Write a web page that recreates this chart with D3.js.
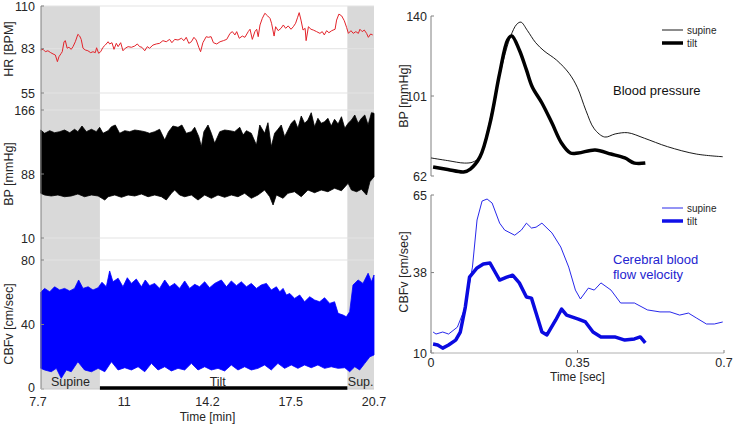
<!DOCTYPE html>
<html><head><meta charset="utf-8">
<script src="https://cdn.jsdelivr.net/npm/d3@7"></script>
<style>
body{margin:0;background:#fff;}
svg{display:block;font-family:"Liberation Sans",Arial,sans-serif;}
</style></head>
<body><svg id="c" width="734" height="424"></svg>
<script>
// ---------- Left panel data (time in minutes) ----------
const hrTime = [7.69,7.78,7.87,7.97,8.08,8.17,8.26,8.34,8.40,8.49,8.53,8.60,8.65,8.72,8.79,8.88,8.95,9.04,9.14,9.21,9.27,9.34,9.43,9.53,9.64,9.73,9.82,9.87,9.95,10.03,10.12,10.21,10.32,10.38,10.47,10.55,10.64,10.71,10.81,10.90,10.99,11.10,11.23,11.36,11.46,11.55,11.64,11.75,11.85,11.94,12.07,12.20,12.33,12.46,12.59,12.72,12.81,12.92,13.05,13.18,13.28,13.37,13.47,13.57,13.67,13.76,13.86,13.93,14.02,14.15,14.23,14.34,14.43,14.56,14.69,14.82,14.95,15.08,15.17,15.27,15.34,15.44,15.56,15.66,15.79,15.86,15.95,16.05,16.12,16.18,16.25,16.34,16.44,16.55,16.64,16.70,16.80,16.86,16.96,17.07,17.16,17.25,17.35,17.46,17.55,17.64,17.72,17.78,17.85,17.93,18.01,18.05,18.14,18.24,18.33,18.46,18.59,18.68,18.76,18.85,18.94,19.05,19.18,19.24,19.33,19.44,19.54,19.63,19.70,19.80,19.89,19.99,20.09,20.15,20.24,20.32,20.41,20.48,20.57,20.65];
const hrBpm = [82.2,82.6,81.1,81.7,80.5,79.7,79.0,74.8,77.9,80.1,81.1,87.4,88.1,83.3,83.9,82.6,84.3,87.4,92.1,91.0,88.9,83.3,82.2,81.7,80.5,81.1,80.5,83.6,80.1,81.1,83.9,85.3,87.4,86.0,86.8,82.6,86.4,84.3,86.8,81.7,83.3,84.3,83.9,84.7,86.0,84.3,83.9,81.7,84.3,83.3,85.3,86.0,86.4,88.1,87.4,88.9,86.8,88.9,88.5,89.6,88.1,90.2,86.4,87.4,90.2,88.5,83.9,81.1,86.8,90.6,90.2,90.6,86.8,86.0,87.4,88.1,88.9,92.7,93.8,91.7,93.8,89.6,91.0,90.2,93.8,95.3,88.9,93.8,95.3,90.6,98.0,102.2,105.4,103.7,102.2,99.1,91.0,96.9,94.4,95.9,98.0,95.9,97.4,95.3,96.9,99.1,102.9,105.8,101.1,94.8,95.9,88.1,96.9,95.3,94.8,93.8,92.7,93.8,91.7,94.4,93.1,94.4,95.3,101.1,104.9,103.7,100.7,96.5,92.7,94.4,92.7,93.8,92.7,95.3,93.8,94.8,92.7,90.2,92.3,91.7];

const bpUpperTime = [7.69,7.84,8.04,8.23,8.43,8.62,8.82,9.01,9.14,9.30,9.47,9.67,9.86,9.99,10.12,10.32,10.45,10.60,10.77,10.97,11.16,11.36,11.55,11.75,11.94,12.14,12.33,12.53,12.68,12.85,13.05,13.20,13.37,13.57,13.70,13.86,13.96,14.06,14.22,14.35,14.48,14.68,14.87,15.07,15.26,15.46,15.59,15.72,15.91,16.11,16.24,16.43,16.56,16.69,16.82,16.95,17.08,17.21,17.34,17.47,17.60,17.73,17.86,17.99,18.12,18.25,18.38,18.51,18.64,18.77,18.90,19.03,19.16,19.30,19.43,19.56,19.69,19.82,19.95,20.08,20.21,20.34,20.47,20.60,20.70];
const bpUpper = [141.6,137.6,140.8,138.3,139.6,141.6,138.3,142.5,139.6,146.5,139.6,142.5,139.6,144.9,137.6,140.8,145.6,147.7,137.6,140.8,139.6,141.6,140.8,139.6,137.6,139.6,142.5,129.4,139.6,146.5,144.9,147.7,137.6,139.6,144.9,133.5,121.3,139.6,147.7,137.6,125.4,139.6,141.6,140.8,139.6,144.9,135.5,140.8,137.6,123.3,147.7,137.6,150.5,121.3,137.6,142.5,147.7,133.5,141.6,149.8,153.8,143.7,158.7,149.8,153.8,162.7,145.6,155.9,149.8,151.7,155.9,146.5,154.7,148.9,157.8,143.7,149.8,153.8,159.9,149.8,155.9,159.9,147.7,162.7,162.0];
const bpLowerTime = [7.69,7.84,8.10,8.36,8.62,8.88,9.14,9.40,9.67,9.93,10.19,10.32,10.58,10.84,11.10,11.36,11.62,11.88,12.14,12.40,12.59,12.79,12.92,13.11,13.31,13.57,13.83,14.09,14.35,14.61,14.87,15.13,15.39,15.65,15.91,16.17,16.43,16.63,16.76,16.89,17.15,17.34,17.60,17.86,18.12,18.38,18.64,18.90,19.16,19.43,19.69,19.82,20.02,20.21,20.41,20.54,20.70];
const bpLower = [64.5,62.4,61.2,62.4,60.3,61.2,63.6,60.3,62.4,61.2,56.3,60.3,62.4,59.6,62.4,61.2,63.6,60.3,62.4,60.3,56.3,64.5,68.5,62.4,60.3,62.4,56.3,62.4,58.4,62.4,59.6,62.4,60.3,64.5,58.4,62.4,68.5,60.3,50.2,62.4,58.4,64.5,66.4,60.3,68.5,65.2,68.5,66.4,70.6,67.6,76.7,68.5,66.4,69.4,62.4,78.6,84.7];

const cbUpperTime = [7.69,7.84,8.04,8.23,8.43,8.62,8.82,9.01,9.17,9.34,9.54,9.73,9.93,10.08,10.25,10.38,10.51,10.71,10.90,11.07,11.23,11.42,11.62,11.77,11.94,12.14,12.33,12.53,12.72,12.92,13.11,13.31,13.50,13.70,13.89,14.09,14.28,14.48,14.74,14.94,15.13,15.33,15.52,15.72,15.91,16.11,16.30,16.50,16.69,16.89,17.02,17.15,17.28,17.41,17.60,17.80,17.99,18.19,18.38,18.58,18.77,18.97,19.16,19.30,19.49,19.62,19.75,19.88,20.08,20.27,20.47,20.60,20.70];
const cbUpper = [60.0,62.4,60.3,63.4,61.4,62.4,60.8,62.4,67.6,62.4,63.4,61.4,62.8,66.2,63.4,73.2,66.5,68.7,63.4,69.0,65.5,68.2,63.4,67.6,64.1,65.5,62.4,67.6,63.4,65.5,62.4,67.0,62.4,64.9,63.4,66.5,62.8,65.5,67.6,63.4,67.0,64.1,66.5,63.4,65.5,62.4,64.5,65.5,61.4,63.4,60.3,62.4,58.3,59.3,56.2,58.3,54.1,57.2,55.2,54.1,56.6,53.1,54.1,46.9,45.9,44.8,47.9,64.5,67.6,65.5,71.8,66.5,70.7];
const cbLowerTime = [7.69,7.84,8.10,8.30,8.49,8.69,8.88,9.14,9.40,9.67,9.93,10.19,10.45,10.71,10.97,11.23,11.49,11.75,12.01,12.27,12.53,12.79,13.05,13.31,13.57,13.83,14.09,14.35,14.61,14.87,15.13,15.39,15.65,15.91,16.17,16.43,16.69,16.95,17.21,17.47,17.73,17.99,18.25,18.51,18.77,19.03,19.30,19.56,19.75,19.95,20.14,20.34,20.54,20.70];
const cbLower = [12.8,11.8,10.7,12.8,6.6,11.8,10.7,16.9,11.8,10.7,12.8,10.7,16.9,11.8,13.2,11.8,13.8,10.7,15.9,11.8,13.8,11.2,12.8,11.8,15.9,11.8,13.8,11.8,12.8,11.2,14.9,11.8,13.8,11.8,12.8,14.9,11.8,15.9,12.8,14.9,12.8,14.9,13.2,14.9,12.8,13.8,12.8,13.2,10.7,13.8,11.8,15.9,20.0,21.1];

const phaseLabels = ["Supine","Tilt","Sup."];
const phaseStart = [7.7,10.0,19.66];
const phaseEnd = [10.0,19.66,20.7];
const minTicks = [7.7,10.95,14.2,17.45,20.7];
const minTickLabels = ["7.7","11","14.2","17.5","20.7"];
const hrTicks = [55,83,110], bpTicks = [10,88,166], cbTicks = [0,40,80];

// ---------- Right panel data (time in seconds) ----------
const bpSupineT = [0,0.04,0.08,0.1,0.115,0.13,0.15,0.17,0.19,0.205,0.215,0.23,0.25,0.27,0.3,0.33,0.35,0.37,0.39,0.415,0.44,0.47,0.51,0.565,0.634,0.697];
const bpSupine = [70.8,69.5,68.3,68.8,71,80,98,116,130,136,137,133,127,123,118.5,112,105,94,85,81,82.5,83.1,80.4,76.3,72.7,71.4];
const bpTiltT = [0.005,0.04,0.078,0.094,0.117,0.141,0.164,0.183,0.193,0.211,0.228,0.242,0.265,0.289,0.312,0.333,0.352,0.392,0.43,0.463,0.486,0.512];
const bpTilt = [66.4,65.2,64,65.4,71.3,87.8,112,128.3,130.3,123.4,113.7,105.4,97.6,87.8,78,73.2,73.2,74.7,72.7,70.8,68.3,68.3];
const cbSupineT = [0.005,0.012,0.028,0.042,0.063,0.082,0.099,0.11,0.122,0.134,0.146,0.164,0.176,0.2,0.216,0.228,0.24,0.251,0.265,0.289,0.31,0.329,0.345,0.357,0.376,0.39,0.406,0.43,0.453,0.486,0.517,0.547,0.571,0.594,0.615,0.634,0.658,0.677,0.697];
const cbSupine = [17.3,16.6,17.3,16.6,19,26,39.9,56.3,62.9,63.6,62.2,55.2,52.8,51,52.8,55.2,53.5,53.8,55.2,51.8,46.9,39.9,31.9,28.8,32.6,31.9,34.4,31.9,27.4,27.4,25,24.3,24.3,23.2,23.9,22.2,20.1,20.1,20.8];
const cbTiltT = [0.005,0.016,0.028,0.042,0.059,0.07,0.082,0.092,0.11,0.125,0.141,0.153,0.164,0.181,0.195,0.211,0.228,0.24,0.251,0.265,0.277,0.298,0.312,0.324,0.352,0.369,0.387,0.406,0.439,0.463,0.486,0.5,0.512];
const cbTilt = [13.1,12.8,11.7,12.8,14.5,17.3,26,36.4,39.6,41,41.3,38.2,35.4,36.4,37.1,34.4,29.5,29.1,23.9,17.3,16.3,21.5,25.3,23.2,21.8,20.8,17.3,15.6,15.6,14.5,14.9,15.6,13.5];
const secTicks = [0,0.35,0.7];
const secTickLabels = ["0","0.35","0.7"];
const rBpTicks = [62,101,140], rCbTicks = [10,38,65];

// ---------- Drawing ----------
const svg = d3.select("#c");
const TXT = "#262626", AX = "#808080", GRID = "#e3e3e3";
const zip = (a,b) => a.map((v,i)=>[v,b[i]]);

const x = d3.scaleLinear().domain([7.7,20.7]).range([41,374]);
const yHR = d3.scaleLinear().domain([55,110]).range([93,6]);
const yBP = d3.scaleLinear().domain([10,166]).range([238,110]);
const yCB = d3.scaleLinear().domain([0,80]).range([389,260]);

// shading
[0,2].forEach(i=>{
  svg.append("rect").attr("x",x(phaseStart[i])).attr("y",yHR(110))
    .attr("width",x(phaseEnd[i])-x(phaseStart[i])).attr("height",yCB(0)-yHR(110))
    .attr("fill","#d9d9d9");
});
// grids
[[yHR,hrTicks],[yBP,bpTicks],[yCB,cbTicks]].forEach(([s,t])=>{
  t.forEach(v=>{
    if (s===yCB && v===0) return;
    svg.append("line").attr("x1",x(7.7)).attr("x2",x(20.7)).attr("y1",s(v)).attr("y2",s(v))
      .attr("stroke",GRID).attr("stroke-width",1);
  });
});

// envelopes
function band(tu,u,tl,l,ys,color){
  const pts = zip(tu,u).concat(zip(tl,l).reverse());
  svg.append("path").attr("d", d3.line().x(d=>x(d[0])).y(d=>ys(d[1])).curve(d3.curveLinearClosed)(pts))
    .attr("fill",color).attr("stroke",color).attr("stroke-width",0.8).attr("stroke-linejoin","miter");
}
band(bpUpperTime,bpUpper,bpLowerTime,bpLower,yBP,"#000");
band(cbUpperTime,cbUpper,cbLowerTime,cbLower,yCB,"#0000ff");

// HR line
svg.append("path").attr("d", d3.line().x(d=>x(d[0])).y(d=>yHR(d[1]))(zip(hrTime,hrBpm)))
  .attr("fill","none").attr("stroke","#e3242b").attr("stroke-width",1);

// left axis
svg.append("line").attr("x1",41).attr("x2",41).attr("y1",yHR(110)).attr("y2",yCB(0)).attr("stroke",AX);
[[yHR,hrTicks],[yBP,bpTicks],[yCB,cbTicks]].forEach(([s,t])=>{
  t.forEach(v=>{
    svg.append("line").attr("x1",41).attr("x2",44).attr("y1",s(v)).attr("y2",s(v)).attr("stroke",AX);
    svg.append("text").attr("x",35).attr("y",s(v) - (s===yCB && v===0 ? 1.5 : 0)).attr("dy","0.36em").attr("text-anchor","end")
      .attr("font-size",12.5).attr("fill",TXT).text(v);
  });
});
// bottom axis line
svg.append("line").attr("x1",41).attr("x2",374).attr("y1",yCB(0)).attr("y2",yCB(0)).attr("stroke","#c8c8c8");
minTicks.forEach((v,i)=>{
  svg.append("text").attr("x",x(v) - (i===0?3:0)).attr("y",406).attr("text-anchor","middle")
    .attr("font-size",12.5).attr("fill",TXT).text(minTickLabels[i]);
});
svg.append("text").attr("x",x(14.2)).attr("y",421).attr("text-anchor","middle")
  .attr("font-size",12).attr("fill",TXT).text("Time [min]");
// tilt bar
svg.append("line").attr("x1",x(phaseStart[1])).attr("x2",x(phaseEnd[1])).attr("y1",388).attr("y2",388)
  .attr("stroke","#000").attr("stroke-width",3.5);
phaseLabels.forEach((lab,i)=>{
  const cx = i===1 ? x(14.6) : (x(phaseStart[i])+x(phaseEnd[i]))/2;
  svg.append("text").attr("x",cx).attr("y",386).attr("text-anchor","middle")
    .attr("font-size",12.5).attr("fill",TXT).text(lab);
});
// y labels
function ylab(xp,yp,t,fill){
  svg.append("text").attr("transform",`translate(${xp},${yp}) rotate(-90)`).attr("text-anchor","middle")
    .attr("font-size",12.5).attr("fill",fill||TXT).text(t);
}
ylab(13,49,"HR [BPM]");
ylab(13,174,"BP [mmHg]");
ylab(13,324,"CBFv [cm/sec]");

// ---------- Right panels ----------
const xr = d3.scaleLinear().domain([0,0.7]).range([431,724]);
const yrBP = d3.scaleLinear().domain([62,140]).range([176,16]);
const yrCB = d3.scaleLinear().domain([10,65]).range([353,195]);

function rAxis(ys,ticks){
  const [a,b] = ys.range();
  svg.append("line").attr("x1",431).attr("x2",431).attr("y1",a).attr("y2",b).attr("stroke",AX);
  ticks.forEach(v=>{
    svg.append("line").attr("x1",431).attr("x2",434).attr("y1",ys(v)).attr("y2",ys(v)).attr("stroke",AX);
    svg.append("text").attr("x",427).attr("y",ys(v)).attr("dy","0.36em").attr("text-anchor","end")
      .attr("font-size",12.5).attr("fill",TXT).text(v);
  });
}
rAxis(yrBP,rBpTicks);
rAxis(yrCB,rCbTicks);
svg.append("line").attr("x1",431).attr("x2",724).attr("y1",353).attr("y2",353).attr("stroke","#b0b0b0");
secTicks.forEach((v,i)=>{
  svg.append("line").attr("x1",xr(v)).attr("x2",xr(v)).attr("y1",353).attr("y2",350).attr("stroke",AX);
  svg.append("text").attr("x",xr(v)).attr("y",367).attr("text-anchor","middle")
    .attr("font-size",12.5).attr("fill",TXT).text(secTickLabels[i]);
});
svg.append("text").attr("x",xr(0.35)).attr("y",381).attr("text-anchor","middle")
  .attr("font-size",12).attr("fill",TXT).text("Time [sec]");
ylab(408,96,"BP [mmHg]");
ylab(408,272,"CBFv [cm/sec]");

const smooth = (ys)=>d3.line().x(d=>xr(d[0])).y(d=>ys(d[1])).curve(d3.curveCatmullRom.alpha(0.5));
const lin = (ys)=>d3.line().x(d=>xr(d[0])).y(d=>ys(d[1]));
svg.append("path").attr("d",smooth(yrBP)(zip(bpSupineT,bpSupine))).attr("fill","none").attr("stroke","#000").attr("stroke-width",0.9);
svg.append("path").attr("d",smooth(yrBP)(zip(bpTiltT,bpTilt))).attr("fill","none").attr("stroke","#000").attr("stroke-width",3.5).attr("stroke-linejoin","round");
svg.append("path").attr("d",lin(yrCB)(zip(cbSupineT,cbSupine))).attr("fill","none").attr("stroke","#1010e8").attr("stroke-width",0.9).attr("stroke-linejoin","round");
svg.append("path").attr("d",lin(yrCB)(zip(cbTiltT,cbTilt))).attr("fill","none").attr("stroke","#0a0ae0").attr("stroke-width",3.5).attr("stroke-linejoin","round");

// legends
function legend(y0,color){
  const items = [["supine",0.9],["tilt",3.5]];
  items.forEach(([lab,w],i)=>{
    const yy = y0 + i*13;
    svg.append("line").attr("x1",662).attr("x2",683).attr("y1",yy).attr("y2",yy).attr("stroke",color).attr("stroke-width",w);
    svg.append("text").attr("x",687).attr("y",yy).attr("dy","0.36em").attr("font-size",10).attr("fill",TXT).text(lab);
  });
}
legend(30,"#000");
legend(208,"#1010e8");

svg.append("text").attr("x",613).attr("y",95).attr("font-size",13).attr("fill","#111").text("Blood pressure");
svg.append("text").attr("x",613).attr("y",264).attr("font-size",13).attr("fill","#2424d0").text("Cerebral blood");
svg.append("text").attr("x",613).attr("y",279).attr("font-size",13).attr("fill","#2424d0").text("flow velocity");
</script></body></html>
